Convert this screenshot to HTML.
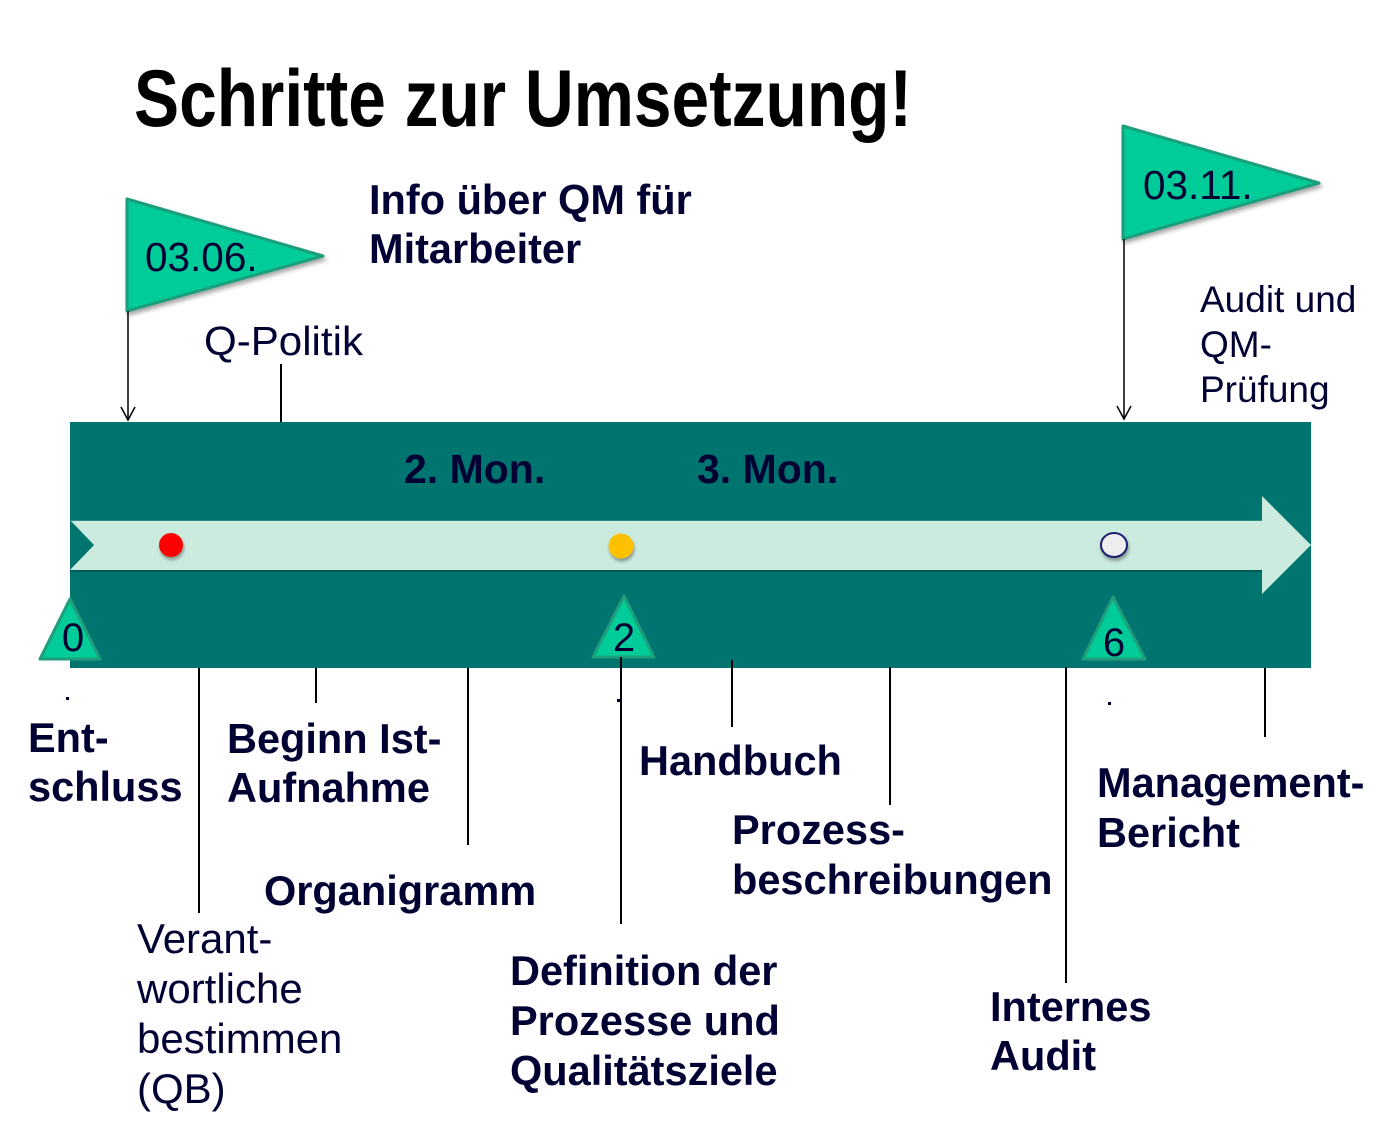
<!DOCTYPE html>
<html>
<head>
<meta charset="utf-8">
<style>
  html, body { margin: 0; padding: 0; background: #ffffff; }
  svg { display: block; }
  text { font-family: "Liberation Sans", Arial, sans-serif; }
</style>
</head>
<body>
<svg width="1395" height="1123" viewBox="0 0 1395 1123" xmlns="http://www.w3.org/2000/svg">
  <defs>
    <filter id="sh" x="-20%" y="-20%" width="150%" height="150%">
      <feDropShadow dx="2" dy="3" stdDeviation="2" flood-color="#000" flood-opacity="0.35"/>
    </filter>
    <filter id="sh2" x="-50%" y="-50%" width="200%" height="200%">
      <feDropShadow dx="1" dy="3" stdDeviation="1.5" flood-color="#000" flood-opacity="0.35"/>
    </filter>
  </defs>

  <rect width="1395" height="1123" fill="#ffffff"/>

  <!-- Title -->
  <text x="134" y="126" font-size="81" font-weight="bold" fill="#000" textLength="778" lengthAdjust="spacingAndGlyphs">Schritte zur Umsetzung!</text>

  <!-- Flag 1 -->
  <polygon points="127,199 323,256 127,311" fill="#00cc99" stroke="#1f9e7c" stroke-width="3" stroke-linejoin="round" filter="url(#sh)"/>
  <text x="145" y="271" font-size="40.5" fill="#000033">03.06.</text>
  <line x1="128" y1="311" x2="128" y2="420" stroke="#000" stroke-width="1.5"/>
  <polyline points="121,407 128,420 135,407" fill="none" stroke="#000" stroke-width="1.5"/>

  <!-- Flag 2 -->
  <polygon points="1123,126 1319,183 1123,239" fill="#00cc99" stroke="#1f9e7c" stroke-width="3" stroke-linejoin="round" filter="url(#sh)"/>
  <text x="1143" y="199" font-size="40.5" fill="#000033">03.11.</text>
  <line x1="1124" y1="239" x2="1124" y2="419" stroke="#000" stroke-width="1.5"/>
  <polyline points="1117,406 1124,419 1131,406" fill="none" stroke="#000" stroke-width="1.5"/>

  <!-- Top labels -->
  <text font-size="41.5" font-weight="bold" fill="#000033">
    <tspan x="369" y="214">Info über QM für</tspan>
    <tspan x="369" y="263">Mitarbeiter</tspan>
  </text>
  <text x="204" y="355" font-size="41" fill="#000033" textLength="159" lengthAdjust="spacingAndGlyphs">Q-Politik</text>
  <line x1="281" y1="364" x2="281" y2="498" stroke="#000" stroke-width="2"/>
  <text font-size="37" fill="#000033">
    <tspan x="1200" y="312">Audit und</tspan>
    <tspan x="1200" y="357">QM-</tspan>
    <tspan x="1200" y="402">Prüfung</tspan>
  </text>

  <!-- Band -->
  <rect x="70" y="422" width="1241" height="246" fill="#00746f"/>

  <!-- Light arrow -->
  <polygon points="70,520 1262,520 1262,496 1311,545 1262,594 1262,570 70,570 94,545" fill="#cbebde"/>
  <line x1="70" y1="520.5" x2="1262" y2="520.5" stroke="#2a8c86" stroke-width="1"/>
  <line x1="70" y1="571" x2="1262" y2="571" stroke="#005b57" stroke-width="2"/>

  <text x="404" y="483" font-size="41" font-weight="bold" fill="#000033">2. Mon.</text>
  <text x="697" y="483" font-size="41" font-weight="bold" fill="#000033">3. Mon.</text>

  <!-- Dots -->
  <circle cx="171" cy="545" r="12" fill="#ff0000" filter="url(#sh2)"/>
  <circle cx="621" cy="546" r="12.5" fill="#ffc000" filter="url(#sh2)"/>
  <ellipse cx="1114" cy="545" rx="13" ry="12" fill="#eeeeee" stroke="#1a1a70" stroke-width="2" filter="url(#sh2)"/>

  <!-- Triangle markers -->
  <polygon points="70,599 100,659 40,659" fill="#00cc99" stroke="#1f9e7c" stroke-width="3" stroke-linejoin="round"/>
  <text x="73" y="651" font-size="40" fill="#000033" text-anchor="middle">0</text>
  <polygon points="624,596 654,657 593,657" fill="#00cc99" stroke="#1f9e7c" stroke-width="3" stroke-linejoin="round"/>
  <text x="624" y="651" font-size="40" fill="#000033" text-anchor="middle">2</text>
  <polygon points="1113,597 1145,659 1083,659" fill="#00cc99" stroke="#1f9e7c" stroke-width="3" stroke-linejoin="round"/>
  <text x="1114" y="656" font-size="40" fill="#000033" text-anchor="middle">6</text>

  <!-- Small dots -->
  <rect x="66" y="697" width="3" height="3" fill="#000033"/>
  <rect x="617" y="699" width="3" height="3" fill="#000033"/>
  <rect x="1108" y="702" width="3" height="3" fill="#000033"/>

  <!-- Lines below band -->
  <g stroke="#000" stroke-width="2">
    <line x1="199" y1="668" x2="199" y2="913"/>
    <line x1="316" y1="668" x2="316" y2="703"/>
    <line x1="468" y1="668" x2="468" y2="845"/>
    <line x1="621" y1="657" x2="621" y2="924"/>
    <line x1="732" y1="660" x2="732" y2="727"/>
    <line x1="890" y1="667" x2="890" y2="805"/>
    <line x1="1066" y1="667" x2="1066" y2="983"/>
    <line x1="1265" y1="668" x2="1265" y2="737"/>
  </g>

  <!-- Bottom labels -->
  <g font-size="41.5" font-weight="bold" fill="#000033">
    <text><tspan x="28" y="752">Ent-</tspan><tspan x="28" y="801">schluss</tspan></text>
    <text><tspan x="227" y="753">Beginn Ist-</tspan><tspan x="227" y="802">Aufnahme</tspan></text>
    <text x="264" y="905">Organigramm</text>
    <text x="639" y="775">Handbuch</text>
    <text><tspan x="732" y="844">Prozess-</tspan><tspan x="732" y="894">beschreibungen</tspan></text>
    <text><tspan x="510" y="985">Definition der</tspan><tspan x="510" y="1035">Prozesse und</tspan><tspan x="510" y="1085">Qualitätsziele</tspan></text>
    <text><tspan x="990" y="1021">Internes</tspan><tspan x="990" y="1070">Audit</tspan></text>
    <text><tspan x="1097" y="797">Management-</tspan><tspan x="1097" y="847">Bericht</tspan></text>
  </g>
  <text font-size="42" fill="#000033">
    <tspan x="137" y="953">Verant-</tspan>
    <tspan x="137" y="1003">wortliche</tspan>
    <tspan x="137" y="1053">bestimmen</tspan>
    <tspan x="137" y="1103">(QB)</tspan>
  </text>
</svg>
</body>
</html>
